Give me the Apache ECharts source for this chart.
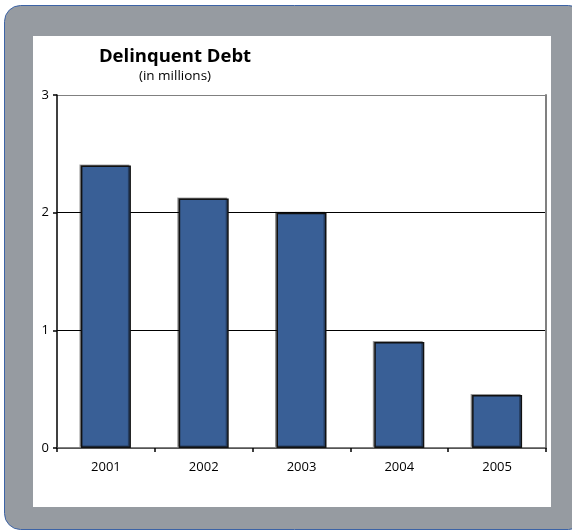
<!DOCTYPE html>
<html>
<head>
<meta charset="utf-8">
<script src="https://cdn.jsdelivr.net/npm/echarts@6/dist/echarts.min.js"></script>
<style>
html,body{margin:0;padding:0;background:#fff;}
#c{width:572px;height:531px;}
</style>
</head>
<body>
<div id="c"></div>
<script>
var categories = ['2001', '2002', '2003', '2004', '2005'];
var debtValues = [2.40, 2.12, 2.00, 0.90, 0.45];
var yTicks = [0, 1, 2, 3];
var titleText = 'Delinquent Debt';
var subtitleText = '(in millions)';

var chart = echarts.init(document.getElementById('c'), null, {renderer: 'canvas'});
var font = '"Open Sans", "DejaVu Sans", sans-serif';
chart.setOption({
  animation: false,
  backgroundColor: 'transparent',
  graphic: [
    {type: 'rect', z: -10, silent: true,
     shape: {x: 4.5, y: 5.5, width: 580, height: 524, r: 16},
     style: {fill: '#969ba1', stroke: '#3c63a6', lineWidth: 1}},
    {type: 'rect', z: -9, silent: true,
     shape: {x: 33, y: 36, width: 518, height: 471},
     style: {fill: '#ffffff'}}
  ],
  title: {
    text: titleText,
    subtext: subtitleText,
    left: 170, top: 42, textAlign: 'center',
    itemGap: 3,
    textStyle: {fontFamily: font, fontWeight: 'bold', fontSize: 18.5, color: '#000'},
    subtextStyle: {fontFamily: font, fontSize: 13.5, color: '#000'}
  },
  grid: {left: 57, right: 26, top: 95, bottom: 83, containLabel: false},
  xAxis: {
    type: 'category',
    data: categories,
    axisLine: {show: true, lineStyle: {color: '#555', width: 1.5}},
    axisTick: {show: true, alignWithLabel: false, length: 4, lineStyle: {color: '#000', width: 1.5}},
    axisLabel: {fontFamily: font, fontSize: 13, color: '#000', margin: 13}
  },
  yAxis: [{
    type: 'value',
    min: yTicks[0], max: yTicks[yTicks.length - 1], interval: 1,
    axisLine: {show: true, lineStyle: {color: '#000', width: 1.5}},
    axisTick: {show: true, length: 4, lineStyle: {color: '#000', width: 1.5}},
    axisLabel: {fontFamily: font, fontSize: 13, color: '#000', margin: 8},
    splitLine: {show: true, lineStyle: {color: ['#555', '#000', '#000', '#808080'], width: [1]}}
  }, {
    type: 'value', position: 'right',
    min: yTicks[0], max: yTicks[yTicks.length - 1], interval: 1,
    axisLine: {show: true, lineStyle: {color: '#808080', width: 2}},
    axisTick: {show: false}, axisLabel: {show: false}, splitLine: {show: false}
  }],
  series: [{
    type: 'bar',
    data: debtValues,
    barWidth: 50,
    itemStyle: {
      color: '#395f96',
      borderColor: '#111',
      borderWidth: 1.5,
      shadowColor: 'rgba(0,0,0,0.35)',
      shadowOffsetX: -1.5,
      shadowOffsetY: -1,
      shadowBlur: 0
    }
  }]
});
</script>
</body>
</html>
